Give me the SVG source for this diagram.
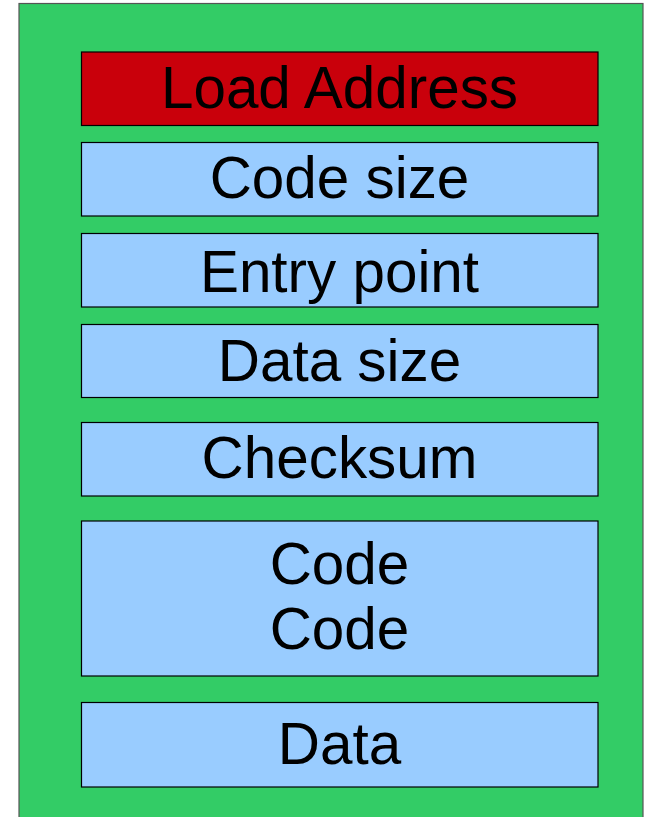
<svg xmlns="http://www.w3.org/2000/svg" width="646" height="817" viewBox="0 0 646 817">
<style>
.box{fill:#99ccff;stroke:#000;stroke-width:1.2}
.red{fill:#c9000b;stroke:#000;stroke-width:1.2}
.t{font-family:"Liberation Sans",Arial,sans-serif;font-size:58.4px;fill:#000;text-anchor:middle}
</style>
<rect width="646" height="817" fill="#ffffff"/>
<g id="container">
<rect x="19" y="3.5" width="624" height="830" fill="#33cc66" stroke="#555" stroke-width="1.2"/>
</g>
<g id="load-address"><rect class="red" x="81.5" y="52" width="516.5" height="73.5"/><text class="t" x="339.5" y="108">Load Address</text></g>
<g id="code-size"><rect class="box" x="81.5" y="142.5" width="516.5" height="73.5"/><text class="t" x="339.5" y="198">Code size</text></g>
<g id="entry-point"><rect class="box" x="81.5" y="233.5" width="516.5" height="73.5"/><text class="t" x="339.5" y="292">Entry point</text></g>
<g id="data-size"><rect class="box" x="81.5" y="324.5" width="516.5" height="73"/><text class="t" x="339.5" y="381">Data size</text></g>
<g id="checksum"><rect class="box" x="81.5" y="422.5" width="516.5" height="73.5"/><text class="t" x="339.5" y="478">Checksum</text></g>
<g id="code"><rect class="box" x="81.5" y="521" width="516.5" height="155"/><text class="t" x="339.5" y="584">Code</text><text class="t" x="339.5" y="649">Code</text></g>
<g id="data"><rect class="box" x="81.5" y="702.5" width="516.5" height="84.5"/><text class="t" x="339.5" y="764">Data</text></g>
<g id="connectors"></g>
</svg>
